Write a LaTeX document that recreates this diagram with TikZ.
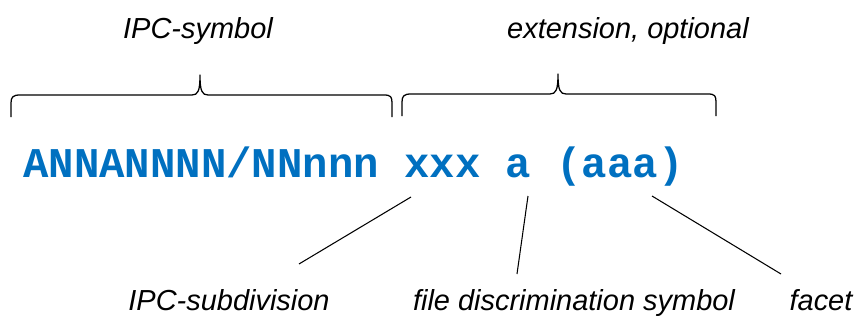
\documentclass[tikz,border=0pt]{standalone}
\usepackage{fontspec}
\setmainfont{Liberation Sans}
\setmonofont{Liberation Mono}
\definecolor{codeblue}{RGB}{0,112,192}
\tikzset{
    label text/.style={font=\fontsize{20.6}{24}\selectfont\itshape, inner sep=0pt, anchor=base},
    code text/.style={font=\fontsize{30.1}{34}\selectfont\ttfamily\bfseries, text=codeblue, inner sep=0pt, anchor=base west},
    pointer/.style={line width=0.75pt},
    bracket/.style={line width=0.9pt, line join=round}
}
\begin{document}
\begin{tikzpicture}[x=0.025cm, y=-0.025cm]
        \useasboundingbox (0, 0) rectangle (864, 322);
        % upper labels and brackets
        \node[label text] (ipcsym) at (198, 38) {IPC-symbol};
        \node[label text] (ext) at (628, 38) {extension, optional};
        \draw[bracket] (11, 117) -- (11, 103) .. controls (11, 97) and (13, 95) .. (20, 95)
            -- (192, 95) .. controls (198, 95) and (200, 91) .. (200, 75)
            .. controls (200, 91) and (202, 95) .. (208, 95)
            -- (384, 95) .. controls (391, 95) and (392, 97) .. (392, 103) -- (392, 117);
        \draw[bracket] (402, 116) -- (402, 102) .. controls (402, 96) and (404, 94) .. (411, 94)
            -- (550, 94) .. controls (556, 94) and (558, 90) .. (558, 74)
            .. controls (558, 90) and (560, 94) .. (566, 94)
            -- (708, 94) .. controls (715, 94) and (716, 96) .. (716, 102) -- (716, 116);
        % the code
        \node[code text] (code) at (23, 177) {ANNANNNN/NNnnn xxx a (aaa)};
        % lower labels
        \node[label text] (subdiv) at (229, 310) {IPC-subdivision};
        \node[label text] (fds) at (574, 310) {file discrimination symbol};
        \node[label text] (facet) at (821, 310) {facet};
        \coordinate (subtop) at (411, 197);
        \coordinate (subend) at (299, 264);
        \coordinate (fdstop) at (528, 196);
        \coordinate (fdsend) at (517, 274);
        \coordinate (facettop) at (652, 196);
        \coordinate (facetend) at (781, 274);
        \draw[pointer] (subtop) -- (subend);
        \draw[pointer] (fdstop) -- (fdsend);
        \draw[pointer] (facettop) -- (facetend);
    \end{tikzpicture}
\end{document}
